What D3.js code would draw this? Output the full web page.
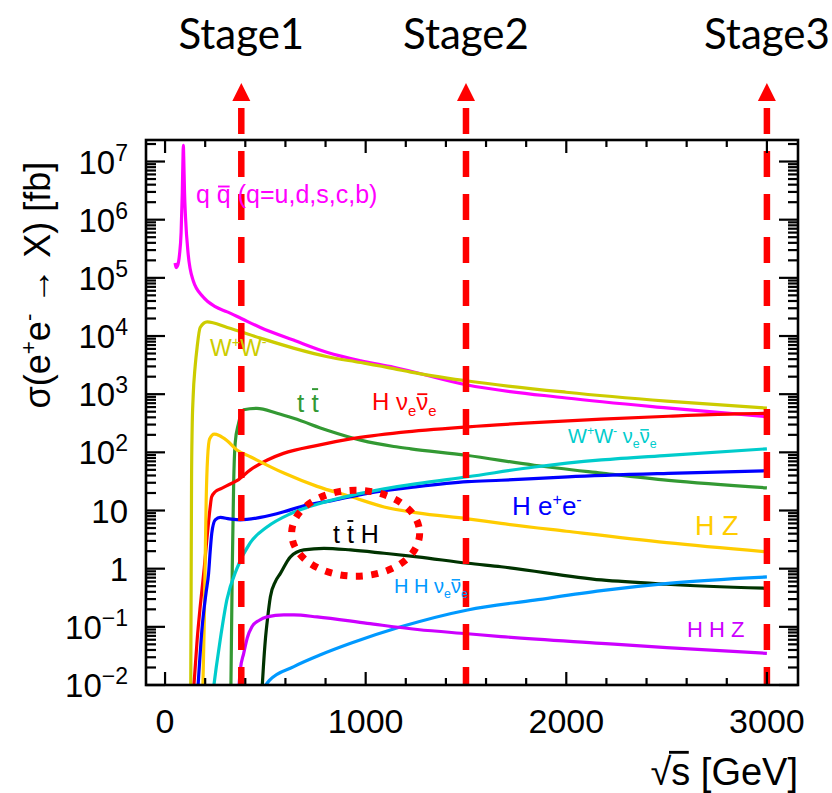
<!DOCTYPE html>
<html>
<head>
<meta charset="utf-8">
<script src="https://cdn.jsdelivr.net/npm/d3@7"></script>
<style>
  body { margin: 0; background: #fff; }
  svg { display: block; font-family: "Liberation Sans", Arial, Helvetica, sans-serif; }
</style>
</head>
<body>
<svg id="chart" width="832" height="793"></svg>
<script>
// Cross sections [sqrt(s) in GeV, sigma in fb]
const qqbar = [[50,1.8e5],[55,1.5e5],[62,1.6e5],[72,2.5e5],[80,6e5],[86,3e6],[90,1.5e7],[91.2,1.9e7],[93,1.2e7],[97,3e6],[102,1.1e6],[115,2.6e5],[140,9e4],[190,4.7e4],[250,3.2e4],[310,2.6e4],[380,2.0e4],[475,1.4e4],[640,8.5e3],[810,5.2e3],[975,3.75e3],[1140,2.9e3],[1500,1.45e3],[2000,8.6e2],[2500,5.8e2],[3000,4.1e2]];
const WW = [[128,0.008],[130,0.5],[132,30],[135,250],[140,900],[150,3000],[160,6500],[175,1.4e4],[210,1.75e4],[310,1.4e4],[475,9.2e3],[640,6.2e3],[810,4.4e3],[975,3.5e3],[1140,2.75e3],[1225,2.4e3],[1500,1.7e3],[2000,1.08e3],[2500,7.6e2],[3000,5.75e2]];
const ttbar = [[328,0.008],[335,1],[342,30],[350,150],[365,300],[391,540],[458,570],[558,470],[641,385],[808,240],[975,162],[1140,126],[1225,115],[1500,89],[1840,60],[2175,44],[2510,33],[3000,24.5]];
const Hnunu = [[142,0.008],[160,0.06],[175,0.22],[195,1.0],[208,3.1],[218,7],[225,11.5],[232,17],[250,21],[282,24],[320,28],[360,33],[425,50],[510,74],[590,96],[760,132],[925,170],[1175,220],[1510,275],[1840,324],[2175,372],[2510,417],[2840,457],[3000,468]];
const HZ = [[188,0.008],[195,0.1],[200,1.4],[205,15],[212,80],[222,170],[245,205],[270,195],[308,160],[358,110],[425,84],[592,44],[758,26],[925,17.4],[1092,11.5],[1258,9.1],[1508,7.2],[1675,6.0],[2000,4.4],[2500,2.8],[3000,1.95]];
const Hee = [[163,0.008],[185,0.1],[205,0.4],[217,0.83],[225,2],[233,4.1],[250,6.9],[275,7.6],[320,7.2],[375,6.9],[475,7.6],[592,9.5],[675,11.6],[842,15.1],[1008,19.7],[1258,25.7],[1508,31.3],[1675,33.1],[2008,38],[2508,43.6],[3000,48.3]];
const WWnunu = [[240,0.008],[255,0.02],[275,0.06],[308,0.29],[358,1.0],[425,2.8],[508,5.2],[625,8.8],[758,12.8],[925,18],[1092,23.5],[1258,29],[1508,38],[1842,56],[2175,74],[2508,89],[3000,115]];
const ttH = [[483,0.008],[490,0.02],[500,0.06],[512,0.15],[525,0.33],[550,0.6],[575,0.83],[625,1.6],[692,2.1],[792,2.24],[925,2.1],[1092,1.84],[1258,1.6],[1508,1.24],[1675,1.08],[2175,0.64],[2500,0.54],[3000,0.46]];
const HHnunu = [[483,0.008],[520,0.012],[642,0.0207],[775,0.033],[925,0.052],[1175,0.1],[1508,0.195],[1842,0.288],[2175,0.42],[2508,0.56],[3000,0.72]];
const HHZ = [[367,0.008],[375,0.018],[392,0.035],[410,0.065],[433,0.1],[470,0.13],[508,0.148],[592,0.16],[642,0.16],[758,0.148],[1008,0.115],[1258,0.09],[1508,0.076],[1675,0.068],[2175,0.052],[2500,0.044],[3000,0.035]];

// Collider stages
const stageEnergies = [380, 1500, 3000];
const stageLabels = ["Stage1", "Stage2", "Stage3"];

// Axis ticks
const xTickValues = [0, 1000, 2000, 3000];
const xTickLabels = ["0", "1000", "2000", "3000"];
const yDecades = [-2, -1, 0, 1, 2, 3, 4, 5, 6, 7];

const svg = d3.select("#chart");
const L = 146, R = 798, T = 140, B = 685;

const x = d3.scaleLinear().domain([-95, 3155]).range([L, R]);
const y = d3.scaleLog().domain([1e-2, Math.pow(10, 7.37)]).range([B, T]);

svg.append("defs").append("clipPath").attr("id", "plotclip")
  .append("rect").attr("x", L).attr("y", T).attr("width", R - L).attr("height", B - T);

const series = [
  { data: qqbar,  color: "#ff00ff" },
  { data: WW,     color: "#cccc00" },
  { data: ttbar,  color: "#339933" },
  { data: Hnunu,  color: "#ff0000" },
  { data: HZ,     color: "#ffcc00" },
  { data: Hee,    color: "#0000ff" },
  { data: WWnunu, color: "#00cccc" },
  { data: ttH,    color: "#003300" },
  { data: HHnunu, color: "#0099ff" },
  { data: HHZ,    color: "#cc00ff" }
];

const line = d3.line()
  .x(d => x(d[0]))
  .y(d => y(Math.max(d[1], 1e-3)))
  .curve(d3.curveMonotoneX);

const curves = svg.append("g").attr("clip-path", "url(#plotclip)");
curves.selectAll("path").data(series).join("path")
  .attr("d", d => line(d.data))
  .attr("fill", "none")
  .attr("stroke", d => d.color)
  .attr("stroke-width", 3.2)
  .attr("stroke-linejoin", "round");

// Stage markers: dashed lines with arrow heads
const stageG = svg.append("g");
stageEnergies.forEach((e, i) => {
  const sx = x(e);
  stageG.append("line")
    .attr("x1", sx).attr("x2", sx).attr("y1", 108).attr("y2", B)
    .attr("stroke", "#ff0000").attr("stroke-width", 6.5)
    .attr("stroke-dasharray", "26,17");
  stageG.append("path")
    .attr("d", `M${sx},83 L${sx - 9},101 L${sx + 9},101 Z`)
    .attr("fill", "#ff0000");
  stageG.append("text")
    .attr("x", sx).attr("y", 49)
    .attr("text-anchor", "middle")
    .attr("font-family", "Lato, 'Open Sans', sans-serif")
    .attr("font-size", 42)
    .attr("fill", "#000")
    .text(stageLabels[i]);
});

// Dotted ellipse around ttH
svg.append("ellipse")
  .attr("cx", x(950)).attr("cy", y(Math.pow(10, 0.61)))
  .attr("rx", 64).attr("ry", 43)
  .attr("fill", "none").attr("stroke", "#ff0000")
  .attr("stroke-width", 7).attr("stroke-dasharray", "7,8.5");

// Frame
svg.append("rect").attr("x", L).attr("y", T).attr("width", R - L).attr("height", B - T)
  .attr("fill", "none").attr("stroke", "#000").attr("stroke-width", 2.6);

// Ticks
const tickG = svg.append("g").attr("stroke", "#000").attr("stroke-width", 2.2);
const xMinor = d3.range(0, 3155, 200);
xMinor.forEach(v => {
  const major = xTickValues.includes(v);
  const len = major ? 13 : 7;
  tickG.append("line").attr("x1", x(v)).attr("x2", x(v)).attr("y1", B).attr("y2", B - len);
  tickG.append("line").attr("x1", x(v)).attr("x2", x(v)).attr("y1", T).attr("y2", T + len);
});
const yMax = y.domain()[1];
yDecades.forEach(d => {
  for (let k = 1; k <= 9; k++) {
    const v = k * Math.pow(10, d);
    if (v > yMax) break;
    const len = k === 1 ? 19 : 10;
    tickG.append("line").attr("x1", L).attr("x2", L + len).attr("y1", y(v)).attr("y2", y(v));
    tickG.append("line").attr("x1", R).attr("x2", R - len).attr("y1", y(v)).attr("y2", y(v));
  }
});

// Tick labels
svg.append("g").selectAll("text").data(xTickValues).join("text")
  .attr("x", d => x(d)).attr("y", 733)
  .attr("text-anchor", "middle").attr("font-size", 34)
  .text((d, i) => xTickLabels[i]);

const yLab = svg.append("g").attr("font-size", 33);
yDecades.forEach(d => {
  const t = yLab.append("text").attr("x", 128).attr("y", y(Math.pow(10, d)) + 12)
    .attr("text-anchor", "end");
  if (d === 0) t.text("1");
  else if (d === 1) t.text("10");
  else {
    t.append("tspan").text("10");
    t.append("tspan").attr("font-size", 23).attr("dy", -13)
      .text(d < 0 ? "\u2212" + (-d) : String(d));
  }
});

// Rich text helper: superscripts, subscripts and bars over single glyphs
function label(px, py, size, color, parts, opts) {
  opts = opts || {};
  const t = svg.append("text").attr("x", px).attr("y", py)
    .attr("font-size", size).attr("fill", color);
  if (opts.anchor) t.attr("text-anchor", opts.anchor);
  let idx = 0, base = 0;
  const bars = [];
  parts.forEach(p => {
    const s = t.append("tspan").text(p.t);
    let dy = 0, fs = size;
    if (p.back) dy += p.back * size;
    if (p.sup) { fs = size * 0.62; dy -= size * 0.4; }
    if (p.sub) { fs = size * 0.62; dy += size * 0.25; }
    if (fs !== size) s.attr("font-size", fs);
    if (dy) s.attr("dy", dy);
    base += dy;
    if (p.bar) bars.push({ start: idx, n: p.t.length, base: base, h: p.bar });
    idx += p.t.length;
  });
  const node = t.node();
  bars.forEach(b => {
    const a = node.getExtentOfChar(b.start);
    const z = node.getExtentOfChar(b.start + b.n - 1);
    const x0 = a.x + (b.h.left !== undefined ? b.h.left : 0.08) * a.width;
    const x1 = z.x + z.width * 0.92;
    const by = py + b.base - b.h.y * size;
    svg.append("line")
      .attr("x1", x0).attr("x2", x1).attr("y1", by).attr("y2", by)
      .attr("stroke", color).attr("stroke-width", Math.max(1.5, size * 0.075));
  });
  if (opts.rotate) t.attr("transform", `rotate(-90,${px},${py})`);
  return t;
}

const lowBar = { y: 0.66 };
const tallBar = { y: 0.88 };

// Axis titles
label(50, 285, 36, "#000", [{t:"\u03c3(e"}, {t:"+", sup:true}, {t:"e", back:0.4}, {t:"-", sup:true}, {t:" \u2192 X) [fb]", back:0.4}], { anchor: "middle", rotate: true });
label(798, 785, 38, "#000", [{t:"\u221a"}, {t:"s", bar:{y:0.86, left:-0.12}}, {t:" [GeV]"}], { anchor: "end" });

// Process labels
label(196, 203, 25, "#ff00ff", [{t:"q "}, {t:"q", bar:lowBar}, {t:" (q=u,d,s,c,b)"}]);
label(210, 356, 23, "#cccc00", [{t:"W"}, {t:"+", sup:true}, {t:"W", back:0.4}, {t:"-", sup:true}]);
label(297, 412, 26, "#339933", [{t:"t "}, {t:"t", bar:tallBar}]);
label(372, 410, 24, "#ff0000", [{t:"H \u03bd"}, {t:"e", sub:true}, {t:"\u03bd", bar:lowBar, back:-0.25}, {t:"e", sub:true}]);
label(568, 443, 20, "#00cccc", [{t:"W"}, {t:"+", sup:true}, {t:"W", back:0.4}, {t:"-", sup:true}, {t:" \u03bd", back:0.4}, {t:"e", sub:true}, {t:"\u03bd", bar:lowBar, back:-0.25}, {t:"e", sub:true}]);
label(512, 515, 26, "#0000ff", [{t:"H e"}, {t:"+", sup:true}, {t:"e", back:0.4}, {t:"-", sup:true}]);
label(695, 535, 27, "#ffcc00", [{t:"H Z"}]);
label(333, 543, 25, "#000000", [{t:"t "}, {t:"t", bar:tallBar}, {t:" H"}]);
label(394, 593, 20, "#0099ff", [{t:"H H \u03bd"}, {t:"e", sub:true}, {t:"\u03bd", bar:lowBar, back:-0.25}, {t:"e", sub:true}]);
label(687, 637, 22, "#cc00ff", [{t:"H H Z"}]);
</script>
</body>
</html>
